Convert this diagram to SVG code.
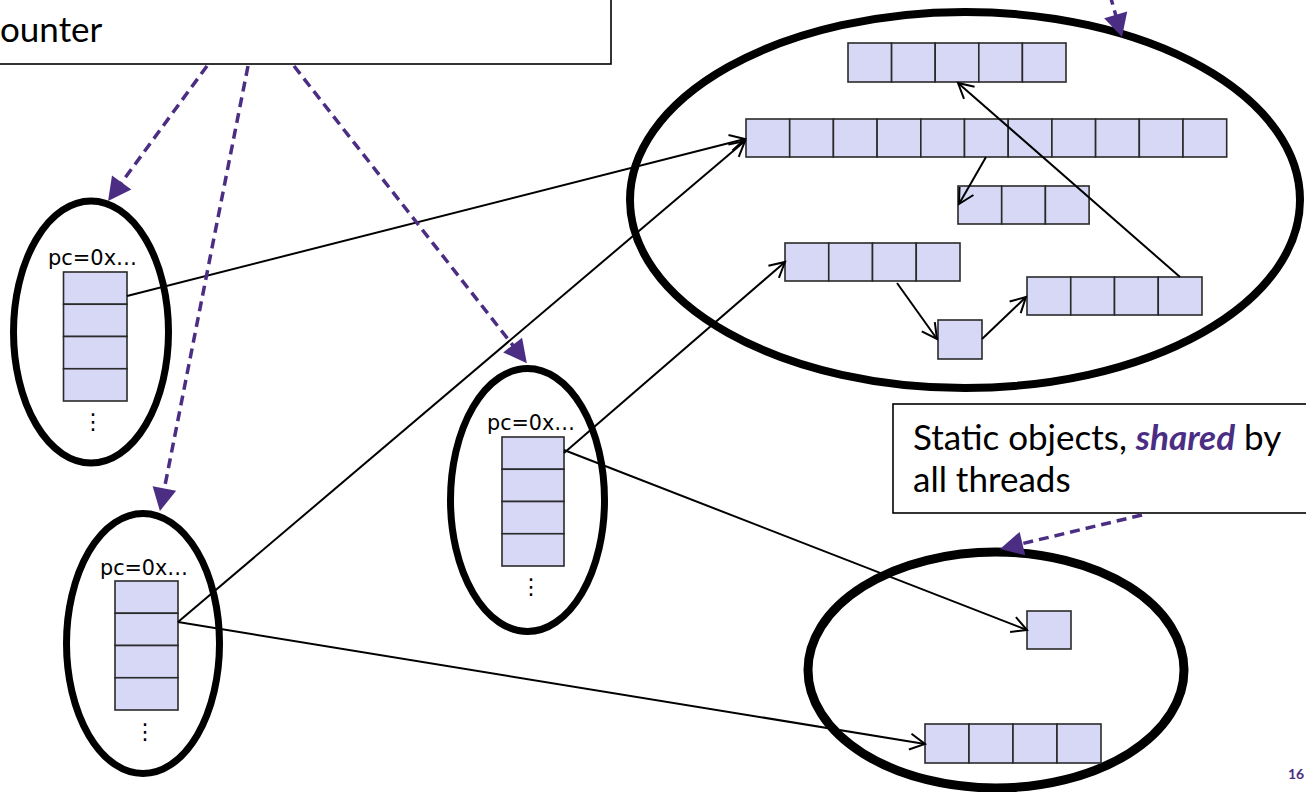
<svg xmlns="http://www.w3.org/2000/svg" width="1306" height="792" viewBox="0 0 1306 792">
<style>
.ell{fill:none;stroke:#000;stroke-width:7}
.big{stroke-width:8}
.st{stroke-width:9}
.cell{fill:#d6d8f5;stroke:#2a2a2a;stroke-width:1.6}
.conn{stroke:#000;stroke-width:2;fill:none;marker-end:url(#open)}
.dash{stroke:#4b2e83;stroke-width:3.5;stroke-dasharray:10 6;fill:none;marker-end:url(#tri)}
.box{fill:#fff;stroke:#000;stroke-width:1.6}
.txt{font-family:Lato,"Liberation Sans",sans-serif;font-size:35px;fill:#000}
.pc{font-family:"DejaVu Sans",Verdana,sans-serif;font-size:22px;fill:#000}
.dots{font-family:"DejaVu Sans",sans-serif;font-size:22px;fill:#000;text-anchor:middle}
</style>
<defs>
<marker id="open" markerUnits="userSpaceOnUse" markerWidth="30" markerHeight="30" refX="0" refY="0" viewBox="-20 -15 30 30" orient="auto" overflow="visible">
<path d="M -15 -8 L 0 0 L -15 8" fill="none" stroke="#000" stroke-width="2"/>
</marker>
<marker id="tri" markerUnits="userSpaceOnUse" markerWidth="40" markerHeight="40" refX="0" refY="0" viewBox="-10 -20 40 40" orient="auto" overflow="visible">
<path d="M -3 -12 L 20 0 L -3 12 Z" fill="#4b2e83"/>
</marker>
</defs>
<rect width="1306" height="792" fill="#fff"/>

<g id="thread-note">
<rect class="box" x="-10" y="-10" width="621" height="74"/>
<text class="txt" x="0" y="42">ounter</text>
</g>

<g id="heap">
<ellipse class="ell big" cx="965" cy="200" rx="335" ry="188"/>
<g id="arrA">
<rect class="cell" x="848" y="43" width="43.6" height="39"/><rect class="cell" x="891.6" y="43" width="43.6" height="39"/><rect class="cell" x="935.2" y="43" width="43.6" height="39"/><rect class="cell" x="978.8" y="43" width="43.6" height="39"/><rect class="cell" x="1022.4" y="43" width="43.6" height="39"/>
</g>
<g id="arrB">
<rect class="cell" x="746" y="119" width="43.7" height="38"/><rect class="cell" x="789.7" y="119" width="43.7" height="38"/><rect class="cell" x="833.4" y="119" width="43.7" height="38"/><rect class="cell" x="877.1" y="119" width="43.7" height="38"/><rect class="cell" x="920.8" y="119" width="43.7" height="38"/><rect class="cell" x="964.5" y="119" width="43.7" height="38"/><rect class="cell" x="1008.2" y="119" width="43.7" height="38"/><rect class="cell" x="1051.9" y="119" width="43.7" height="38"/><rect class="cell" x="1095.6" y="119" width="43.7" height="38"/><rect class="cell" x="1139.3" y="119" width="43.7" height="38"/><rect class="cell" x="1183" y="119" width="43.7" height="38"/>
</g>
<g id="arrC">
<rect class="cell" x="958" y="186" width="43.7" height="38"/><rect class="cell" x="1001.7" y="186" width="43.7" height="38"/><rect class="cell" x="1045.4" y="186" width="43.7" height="38"/>
</g>
<g id="arrD">
<rect class="cell" x="785" y="243" width="43.75" height="38"/><rect class="cell" x="828.75" y="243" width="43.75" height="38"/><rect class="cell" x="872.5" y="243" width="43.75" height="38"/><rect class="cell" x="916.25" y="243" width="43.75" height="38"/>
</g>
<g id="arrE">
<rect class="cell" x="938" y="320" width="44" height="39"/>
</g>
<g id="arrF">
<rect class="cell" x="1027" y="277" width="43.75" height="38"/><rect class="cell" x="1070.75" y="277" width="43.75" height="38"/><rect class="cell" x="1114.5" y="277" width="43.75" height="38"/><rect class="cell" x="1158.25" y="277" width="43.75" height="38"/>
</g>
</g>

<g id="thread1">
<ellipse class="ell" cx="91" cy="332" rx="77.5" ry="131"/>
<text class="pc" x="48" y="265" textLength="89" lengthAdjust="spacingAndGlyphs">pc=0x…</text>
<rect class="cell" x="63.5" y="272" width="63.5" height="32.25"/><rect class="cell" x="63.5" y="304.25" width="63.5" height="32.25"/><rect class="cell" x="63.5" y="336.5" width="63.5" height="32.25"/><rect class="cell" x="63.5" y="368.75" width="63.5" height="32.25"/>
<text class="dots" x="93" y="429">⋮</text>
</g>

<g id="thread2">
<ellipse class="ell" cx="143" cy="643.5" rx="76.5" ry="130"/>
<text class="pc" x="100" y="575" textLength="88" lengthAdjust="spacingAndGlyphs">pc=0x…</text>
<rect class="cell" x="115" y="581" width="63" height="32.25"/><rect class="cell" x="115" y="613.25" width="63" height="32.25"/><rect class="cell" x="115" y="645.5" width="63" height="32.25"/><rect class="cell" x="115" y="677.75" width="63" height="32.25"/>
<text class="dots" x="145" y="739">⋮</text>
</g>

<g id="thread3">
<ellipse class="ell" cx="527.5" cy="500" rx="77" ry="131.5"/>
<text class="pc" x="487" y="430" textLength="88" lengthAdjust="spacingAndGlyphs">pc=0x…</text>
<rect class="cell" x="502" y="437" width="62" height="32.25"/><rect class="cell" x="502" y="469.25" width="62" height="32.25"/><rect class="cell" x="502" y="501.5" width="62" height="32.25"/><rect class="cell" x="502" y="533.75" width="62" height="32.25"/>
<text class="dots" x="531" y="594">⋮</text>
</g>

<g id="static">
<ellipse class="ell st" cx="996" cy="670" rx="188" ry="118"/>
<rect class="cell" x="1027" y="611" width="44" height="38"/>
<g id="arrS">
<rect class="cell" x="925" y="724" width="44" height="39"/><rect class="cell" x="969" y="724" width="44" height="39"/><rect class="cell" x="1013" y="724" width="44" height="39"/><rect class="cell" x="1057" y="724" width="44" height="39"/>
</g>
</g>

<g id="static-note">
<rect class="box" x="893" y="404" width="430" height="109"/>
<text class="txt" x="913" y="450">Static objects, <tspan font-weight="bold" font-style="italic" fill="#4b2e83">shared</tspan> by</text>
<text class="txt" x="913" y="492">all threads</text>
</g>

<g id="connectors">
<line class="conn" x1="127" y1="296" x2="745" y2="139"/>
<line class="conn" x1="178" y1="622" x2="745" y2="141"/>
<line class="conn" x1="564" y1="453" x2="785" y2="262"/>
<line class="conn" x1="564" y1="450" x2="1027" y2="630"/>
<line class="conn" x1="178" y1="622" x2="925" y2="744"/>
<line class="conn" x1="1180" y1="277" x2="958" y2="83"/>
<line class="conn" x1="986" y1="157" x2="959" y2="204"/>
<line class="conn" x1="897" y1="283" x2="937" y2="339"/>
<line class="conn" x1="982" y1="339" x2="1026" y2="297"/>
<line class="dash" x1="207" y1="66" x2="119.9" y2="184.9"/>
<line class="dash" x1="248" y1="66" x2="163.8" y2="491.4"/>
<line class="dash" x1="294" y1="66" x2="514.5" y2="347.4"/>
<line class="dash" x1="1110" y1="-5" x2="1116.5" y2="17.8"/>
<line class="dash" x1="1142" y1="515" x2="1019.5" y2="544.3"/>
</g>

<text x="1288" y="779" font-family="Lato,'Liberation Sans',sans-serif" font-size="14" font-weight="bold" fill="#4b2e83">16</text>
</svg>
